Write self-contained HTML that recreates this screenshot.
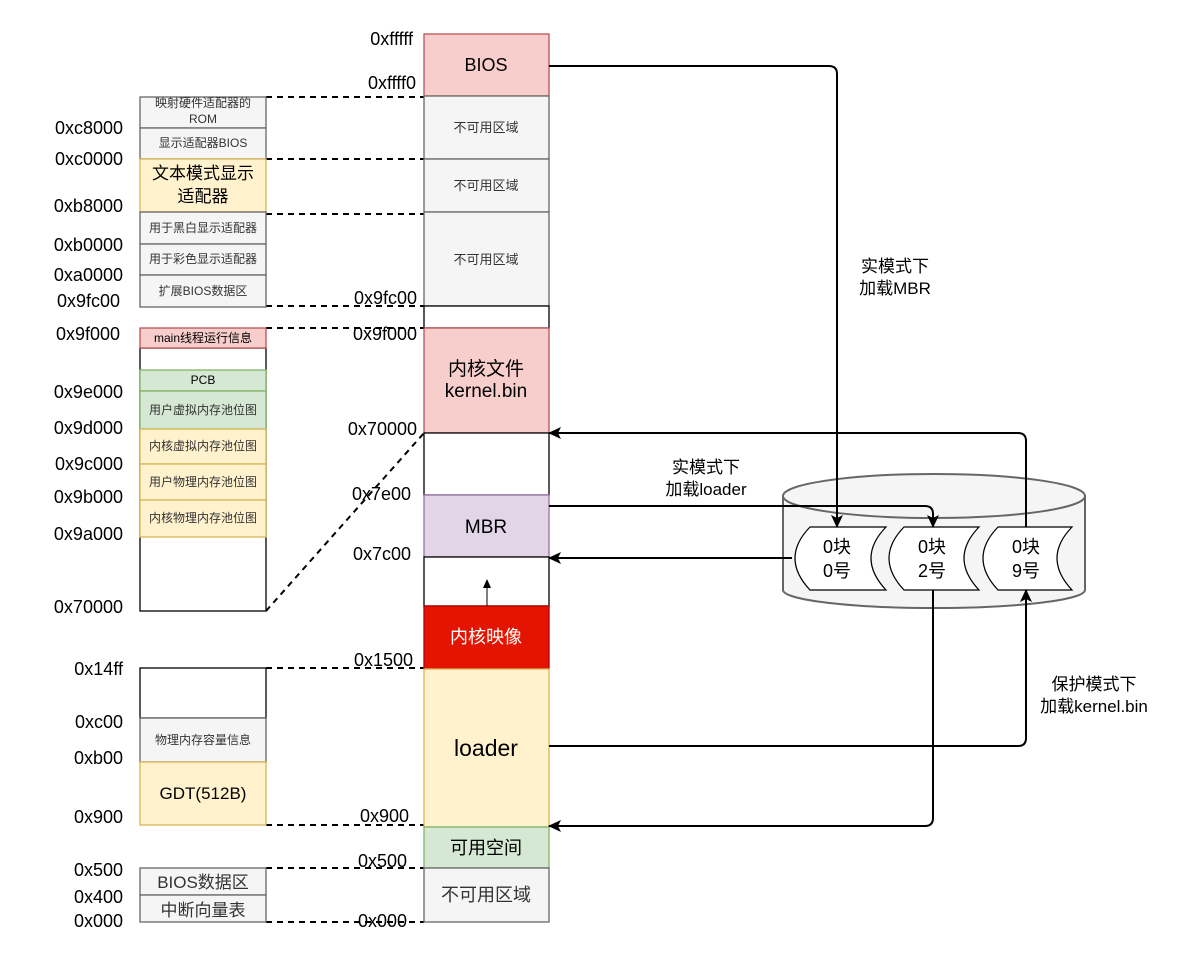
<!DOCTYPE html>
<html><head><meta charset="utf-8"><style>
html,body{margin:0;padding:0;background:#fff;}
svg{display:block;font-family:"Liberation Sans","Noto Sans CJK SC",sans-serif;}
</style></head><body>
<svg width="1200" height="969" viewBox="0 0 1200 969" xmlns="http://www.w3.org/2000/svg">
<defs>
<marker id="ah" markerWidth="14" markerHeight="14" refX="12" refY="6" orient="auto" markerUnits="userSpaceOnUse">
<path d="M0,0 L13,6 L0,12 L3,6 Z" fill="#000"/></marker>
</defs>
<rect width="1200" height="969" fill="#fff"/>

<g stroke="#000" stroke-width="2" stroke-dasharray="6,5" fill="none">
<line x1="266" y1="97" x2="424" y2="97"/>
<line x1="266" y1="159" x2="424" y2="159"/>
<line x1="266" y1="214" x2="424" y2="214"/>
<line x1="266" y1="306" x2="424" y2="306"/>
<line x1="266" y1="328" x2="424" y2="328"/>
<line x1="266" y1="668" x2="424" y2="668"/>
<line x1="266" y1="825" x2="424" y2="825"/>
<line x1="266" y1="868" x2="424" y2="868"/>
<line x1="266" y1="922" x2="424" y2="922"/>
<line x1="266" y1="611" x2="424" y2="433"/>
</g>

<g stroke-width="1.3">
<rect x="424" y="34" width="125" height="62" fill="#f8cecc" stroke="#b85450"/>
<rect x="424" y="96" width="125" height="63" fill="#f5f5f5" stroke="#666"/>
<rect x="424" y="159" width="125" height="53" fill="#f5f5f5" stroke="#666"/>
<rect x="424" y="212" width="125" height="94" fill="#f5f5f5" stroke="#666"/>
<rect x="424" y="306" width="125" height="22" fill="#fff" stroke="#000"/>
<rect x="424" y="328" width="125" height="105" fill="#f8cecc" stroke="#b85450"/>
<rect x="424" y="433" width="125" height="62" fill="#fff" stroke="#000"/>
<rect x="424" y="495" width="125" height="62" fill="#e1d5e7" stroke="#9673a6"/>
<rect x="424" y="557" width="125" height="49" fill="#fff" stroke="#000"/>
<rect x="424" y="606" width="125" height="63" fill="#e51400" stroke="#b20000"/>
<rect x="424" y="669" width="125" height="158" fill="#fff2cc" stroke="#d6b656"/>
<rect x="424" y="827" width="125" height="41" fill="#d5e8d4" stroke="#82b366"/>
<rect x="424" y="868" width="125" height="54" fill="#f5f5f5" stroke="#666"/>
</g>
<line x1="487" y1="606" x2="487" y2="582" stroke="#000" stroke-width="1"/>
<path d="M487,579 L483,588 L491,588 Z" fill="#000"/>

<g text-anchor="middle" fill="#000">
<text x="486" y="71" font-size="18">BIOS</text>
<text x="486" y="132" font-size="13" fill="#333">不可用区域</text>
<text x="486" y="190" font-size="13" fill="#333">不可用区域</text>
<text x="486" y="264" font-size="13" fill="#333">不可用区域</text>
<text x="486" y="375" font-size="19">内核文件</text>
<text x="486" y="397" font-size="19">kernel.bin</text>
<text x="486" y="533" font-size="19">MBR</text>
<text x="486" y="643" font-size="18" fill="#fff">内核映像</text>
<text x="486" y="756" font-size="23">loader</text>
<text x="486" y="854" font-size="18">可用空间</text>
<text x="486" y="901" font-size="18" fill="#333">不可用区域</text>
</g>

<g text-anchor="end" font-size="18" fill="#000">
<text x="413" y="45">0xfffff</text>
<text x="416" y="89">0xffff0</text>
<text x="417" y="304">0x9fc00</text>
<text x="417" y="340">0x9f000</text>
<text x="417" y="435">0x70000</text>
<text x="411" y="500">0x7e00</text>
<text x="411" y="560">0x7c00</text>
<text x="413" y="666">0x1500</text>
<text x="409" y="822">0x900</text>
<text x="407" y="867">0x500</text>
<text x="407" y="927">0x000</text>
</g>

<g stroke-width="1.3">
<rect x="140" y="97" width="126" height="31" fill="#f5f5f5" stroke="#666"/>
<rect x="140" y="128" width="126" height="31" fill="#f5f5f5" stroke="#666"/>
<rect x="140" y="159" width="126" height="53" fill="#fff2cc" stroke="#d6b656"/>
<rect x="140" y="212" width="126" height="32" fill="#f5f5f5" stroke="#666"/>
<rect x="140" y="244" width="126" height="31" fill="#f5f5f5" stroke="#666"/>
<rect x="140" y="275" width="126" height="32" fill="#f5f5f5" stroke="#666"/>

<rect x="140" y="348" width="126" height="263" fill="#fff" stroke="#000"/>
<rect x="140" y="328" width="126" height="20" fill="#f8cecc" stroke="#b85450"/>
<rect x="140" y="370" width="126" height="21" fill="#d5e8d4" stroke="#82b366"/>
<rect x="140" y="391" width="126" height="38" fill="#d5e8d4" stroke="#82b366"/>
<rect x="140" y="429" width="126" height="35" fill="#fff2cc" stroke="#d6b656"/>
<rect x="140" y="464" width="126" height="36" fill="#fff2cc" stroke="#d6b656"/>
<rect x="140" y="500" width="126" height="37" fill="#fff2cc" stroke="#d6b656"/>

<rect x="140" y="668" width="126" height="50" fill="#fff" stroke="#000"/>
<rect x="140" y="718" width="126" height="44" fill="#f5f5f5" stroke="#666"/>
<rect x="140" y="762" width="126" height="63" fill="#fff2cc" stroke="#d6b656"/>

<rect x="140" y="868" width="126" height="27" fill="#f5f5f5" stroke="#666"/>
<rect x="140" y="895" width="126" height="27" fill="#f5f5f5" stroke="#666"/>
</g>
<g text-anchor="middle" fill="#333" font-size="12">
<text x="203" y="107">映射硬件适配器的</text>
<text x="203" y="123">ROM</text>
<text x="203" y="147">显示适配器BIOS</text>
<text x="203" y="179" font-size="17" fill="#000">文本模式显示</text>
<text x="203" y="202" font-size="17" fill="#000">适配器</text>
<text x="203" y="232">用于黑白显示适配器</text>
<text x="203" y="263">用于彩色显示适配器</text>
<text x="203" y="295">扩展BIOS数据区</text>
<text x="203" y="342" fill="#000">main线程运行信息</text>
<text x="203" y="384" fill="#000">PCB</text>
<text x="203" y="414">用户虚拟内存池位图</text>
<text x="203" y="450">内核虚拟内存池位图</text>
<text x="203" y="486">用户物理内存池位图</text>
<text x="203" y="522">内核物理内存池位图</text>
<text x="203" y="744">物理内存容量信息</text>
<text x="203" y="799" font-size="17" fill="#000">GDT(512B)</text>
<text x="203" y="888" font-size="17">BIOS数据区</text>
<text x="203" y="916" font-size="17">中断向量表</text>
</g>

<g text-anchor="end" font-size="18" fill="#000">
<text x="123" y="134">0xc8000</text>
<text x="123" y="165">0xc0000</text>
<text x="123" y="212">0xb8000</text>
<text x="123" y="251">0xb0000</text>
<text x="123" y="281">0xa0000</text>
<text x="120" y="307">0x9fc00</text>
<text x="120" y="340">0x9f000</text>
<text x="123" y="398">0x9e000</text>
<text x="123" y="434">0x9d000</text>
<text x="123" y="470">0x9c000</text>
<text x="123" y="503">0x9b000</text>
<text x="123" y="540">0x9a000</text>
<text x="123" y="613">0x70000</text>
<text x="123" y="675">0x14ff</text>
<text x="123" y="728">0xc00</text>
<text x="123" y="764">0xb00</text>
<text x="123" y="823">0x900</text>
<text x="123" y="876">0x500</text>
<text x="123" y="903">0x400</text>
<text x="123" y="927">0x000</text>
</g>

<path d="M783,496 L783,590 A151,18 0 0 0 1085,590 L1085,496" fill="#f5f5f5" stroke="#666" stroke-width="2"/>
<ellipse cx="934" cy="496" rx="151" ry="22" fill="#f5f5f5" stroke="#666" stroke-width="2"/>

<g fill="#fff" stroke="#000" stroke-width="1.2">
<path d="M810,527 L886,527 Q856,558 886,590 L810,590 Q780,558 810,527 Z"/>
<path d="M904,527 L979,527 Q949,558 979,590 L904,590 Q874,558 904,527 Z"/>
<path d="M998,527 L1072,527 Q1042,558 1072,590 L998,590 Q968,558 998,527 Z"/>
</g>
<g text-anchor="middle" font-size="18" fill="#000">
<text x="837" y="553">0块</text><text x="837" y="577">0号</text>
<text x="932" y="553">0块</text><text x="932" y="577">2号</text>
<text x="1026" y="553">0块</text><text x="1026" y="577">9号</text>
</g>

<g stroke="#000" stroke-width="2" fill="none">
<path d="M549,66 L829,66 Q837,66 837,74 L837,527" marker-end="url(#ah)"/>
<path d="M549,506 L925,506 Q933,506 933,514 L933,527" marker-end="url(#ah)"/>
<path d="M792,558 L549,558" marker-end="url(#ah)"/>
<path d="M1026,527 L1026,441 Q1026,433 1018,433 L549,433" marker-end="url(#ah)"/>
<path d="M933,590 L933,818 Q933,826 925,826 L549,826" marker-end="url(#ah)"/>
<path d="M549,746 L1018,746 Q1026,746 1026,738 L1026,590" marker-end="url(#ah)"/>
</g>

<g text-anchor="middle" font-size="17" fill="#000">
<text x="895" y="272">实模式下</text>
<text x="895" y="294">加载MBR</text>
<text x="706" y="473">实模式下</text>
<text x="706" y="495">加载loader</text>
<text x="1094" y="690">保护模式下</text>
<text x="1094" y="712">加载kernel.bin</text>
</g>
</svg>
</body></html>
